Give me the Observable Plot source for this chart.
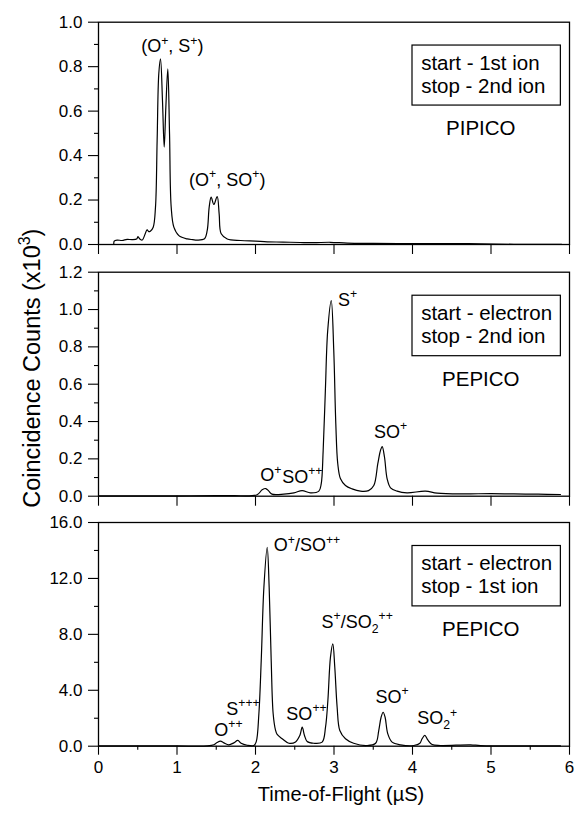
<!DOCTYPE html>
<html>
<head>
<meta charset="utf-8">
<script src="https://cdn.jsdelivr.net/npm/d3@7"></script>
<script src="https://cdn.jsdelivr.net/npm/@observablehq/plot@0.6"></script>
<style>
  html, body { margin: 0; padding: 0; background: white; }
  #chart { position: relative; width: 577px; height: 815px; overflow: hidden; }
  #chart svg { position: absolute; left: 0; top: 0; }
</style>
</head>
<body>
<div id="chart"></div>
<script>
// ---------- Panel 1: PIPICO (start - 1st ion, stop - 2nd ion) ----------
const pipicoTof = [0.195, 0.2, 0.237, 0.3, 0.364, 0.43, 0.49, 0.5, 0.53, 0.557, 0.62, 0.64, 0.66, 0.697, 0.726, 0.747, 0.768, 0.79, 0.815, 0.837, 0.858, 0.883, 0.905, 0.926, 0.96, 1.024, 1.13, 1.2, 1.257, 1.35, 1.385, 1.41, 1.435, 1.469, 1.512, 1.537, 1.563, 1.64, 1.81, 2.0, 2.15, 2.35, 2.57, 2.74, 2.95, 3.17, 3.5, 4.02, 4.5, 4.87, 5.29, 5.6, 5.9];
const pipicoCounts = [0.0, 0.015, 0.02, 0.018, 0.023, 0.022, 0.026, 0.035, 0.024, 0.02, 0.066, 0.058, 0.06, 0.078, 0.168, 0.468, 0.768, 0.835, 0.648, 0.438, 0.618, 0.79, 0.498, 0.168, 0.078, 0.04, 0.025, 0.022, 0.02, 0.026, 0.063, 0.168, 0.213, 0.18, 0.216, 0.138, 0.048, 0.025, 0.018, 0.015, 0.012, 0.011, 0.009, 0.008, 0.01, 0.006, 0.005, 0.004, 0.004, 0.003, 0.001, 0.001, 0.001];
const pipicoLabels = ["(O⁺, S⁺)", "(O⁺, SO⁺)"];
const pipicoLabelTof = [0.94, 1.64];
const pipicoLabelCounts = [0.89, 0.29];

// ---------- Panel 2: PEPICO (start - electron, stop - 2nd ion) ----------
const pepico2Tof = [0, 0.5, 1.0, 1.5, 1.72, 2.02, 2.085, 2.13, 2.17, 2.21, 2.36, 2.49, 2.594, 2.70, 2.807, 2.837, 2.862, 2.89, 2.92, 2.965, 2.997, 3.023, 3.048, 3.083, 3.146, 3.23, 3.337, 3.44, 3.507, 3.558, 3.592, 3.614, 3.643, 3.677, 3.72, 3.804, 3.93, 4.165, 4.314, 4.65, 5.0, 5.29, 5.6, 5.885];
const pepico2Counts = [0.002, 0.002, 0.002, 0.003, 0.003, 0.008, 0.034, 0.041, 0.027, 0.011, 0.011, 0.018, 0.03, 0.018, 0.027, 0.066, 0.245, 0.566, 0.888, 1.048, 0.78, 0.388, 0.174, 0.093, 0.057, 0.039, 0.027, 0.03, 0.057, 0.174, 0.245, 0.266, 0.21, 0.093, 0.045, 0.027, 0.018, 0.027, 0.016, 0.012, 0.014, 0.012, 0.011, 0.009];
const pepico2Labels = ["S⁺", "SO⁺", "O⁺", "SO⁺⁺"];
const pepico2LabelTof = [3.05, 3.72, 2.06, 2.34];
const pepico2LabelCounts = [1.05, 0.343, 0.111, 0.104];
const pepico2LabelAnchor = ["start", "middle", "start", "start"];

// ---------- Panel 3: PEPICO (start - electron, stop - 1st ion) ----------
const pepico1Tof = [0, 0.5, 1.0, 1.385, 1.47, 1.51, 1.554, 1.597, 1.66, 1.724, 1.775, 1.817, 1.894, 1.979, 2.009, 2.043, 2.073, 2.107, 2.149, 2.174, 2.2, 2.225, 2.254, 2.276, 2.34, 2.425, 2.51, 2.565, 2.595, 2.624, 2.658, 2.743, 2.849, 2.892, 2.922, 2.955, 2.985, 3.01, 3.04, 3.074, 3.146, 3.25, 3.42, 3.53, 3.57, 3.6, 3.626, 3.651, 3.685, 3.74, 3.847, 4.017, 4.094, 4.122, 4.157, 4.195, 4.25, 4.357, 4.74, 4.866, 5.3, 5.885];
const pepico1Counts = [0.02, 0.02, 0.02, 0.02, 0.1, 0.26, 0.36, 0.24, 0.1, 0.24, 0.41, 0.21, 0.07, 0.05, 0.31, 2.32, 6.13, 11.37, 14.23, 11.37, 6.13, 2.32, 1.17, 0.84, 0.53, 0.21, 0.3, 0.77, 1.36, 0.77, 0.34, 0.21, 0.29, 1.36, 3.27, 6.37, 7.32, 5.65, 2.79, 1.12, 0.53, 0.21, 0.05, 0.21, 1.12, 2.07, 2.43, 2.07, 0.89, 0.29, 0.1, 0.05, 0.21, 0.53, 0.77, 0.45, 0.12, 0.05, 0.1, 0.04, 0.03, 0.02];
const pepico1Labels = ["O⁺/SO⁺⁺", "S⁺/SO₂⁺⁺", "SO⁺", "SO₂⁺", "SO⁺⁺", "S⁺⁺⁺", "O⁺⁺"];
const pepico1LabelTof = [2.233, 3.295, 3.74, 4.315, 2.65, 1.84, 1.656];
const pepico1LabelCounts = [14.35, 8.87, 3.5, 1.98, 2.32, 2.67, 1.17];
const pepico1LabelAnchor = ["start", "middle", "middle", "middle", "middle", "middle", "middle"];

// ---------- Boxes / mode names ----------
const boxLines = [["start - 1st ion", "stop - 2nd ion"], ["start - electron", "stop - 2nd ion"], ["start - electron", "stop - 1st ion"]];
const modeNames = ["PIPICO", "PEPICO", "PEPICO"];

// ---------- Axes ----------
const xMajor = [0, 1, 2, 3, 4, 5, 6];
const xMinor = [0.5, 1.5, 2.5, 3.5, 4.5, 5.5];
const yDomains = [[0, 1.0], [0, 1.2], [0, 16]];
const yMajor = [[0, 0.2, 0.4, 0.6, 0.8, 1.0], [0, 0.2, 0.4, 0.6, 0.8, 1.0, 1.2], [0, 4, 8, 12, 16]];
const yMinor = [[0.1, 0.3, 0.5, 0.7, 0.9], [0.1, 0.3, 0.5, 0.7, 0.9, 1.1], [2, 6, 10, 14]];
const xTitle = "Time-of-Flight (µS)";
const yTitle = "Coincidence Counts (x10³)";

// ---------- Layout (pixel geometry of the three frames) ----------
const W = 577, H = 815;
const frames = [[21.7, 244], [271.7, 495.7], [522, 745.7]];
const mLeft = 98, mRight = 8;

const FONT = "'Liberation Sans', Arial, Helvetica, sans-serif";

const series = [
  {tof: pipicoTof, counts: pipicoCounts, labels: pipicoLabels, lx: pipicoLabelTof, ly: pipicoLabelCounts, anchor: pipicoLabels.map(() => "middle")},
  {tof: pepico2Tof, counts: pepico2Counts, labels: pepico2Labels, lx: pepico2LabelTof, ly: pepico2LabelCounts, anchor: pepico2LabelAnchor},
  {tof: pepico1Tof, counts: pepico1Counts, labels: pepico1Labels, lx: pepico1LabelTof, ly: pepico1LabelCounts, anchor: pepico1LabelAnchor}
];

// Render Unicode super/subscripts as real shifted tspans (plain "+", "2", "3")
const SUP = {"⁺": "+", "³": "3"}, SUB = {"₂": "2"};
function richify(textEl) {
  const s = textEl.textContent;
  if (!/[⁺³₂]/.test(s)) return;
  const fs = parseFloat(getComputedStyle(textEl).fontSize) || 16;
  const runs = [];
  for (const ch of s) {
    const kind = SUP[ch] ? "sup" : SUB[ch] ? "sub" : "normal";
    const c = SUP[ch] || SUB[ch] || ch;
    if (runs.length && runs[runs.length - 1].kind === kind) runs[runs.length - 1].text += c;
    else runs.push({kind, text: c});
  }
  textEl.textContent = "";
  let offset = 0;
  const ns = "http://www.w3.org/2000/svg";
  for (const r of runs) {
    const target = r.kind === "sup" ? -0.42 * fs : r.kind === "sub" ? 0.28 * fs : 0;
    const t = document.createElementNS(ns, "tspan");
    t.setAttribute("dy", (target - offset).toFixed(2));
    if (r.kind !== "normal") t.setAttribute("font-size", (0.68 * fs).toFixed(2));
    t.textContent = r.text;
    textEl.appendChild(t);
    offset = target;
  }
}

const chart = document.getElementById("chart");

series.forEach((s, i) => {
  const pts = s.tof.map((t, k) => ({t, c: s.counts[k]}));
  const labs = s.labels.map((text, k) => ({text, x: s.lx[k], y: s.ly[k], anchor: s.anchor[k]}));
  const [top, bottom] = frames[i];
  const last = i === 2;
  const fmt = d3.format(".1f");
  const marks = [
    Plot.axisY({ticks: yMajor[i], tickSize: 10, tickPadding: 6, tickFormat: fmt, fontSize: 17, label: null, strokeWidth: 1.1}),
    Plot.axisY({ticks: yMinor[i], tickSize: 4, tickFormat: () => "", label: null, strokeWidth: 1.1}),
    Plot.axisX({ticks: xMajor, tickSize: last ? 9 : 10, tickPadding: 6, tickFormat: last ? (d => String(d)) : (() => ""), fontSize: 17, label: null, strokeWidth: 1.1})
  ];
  if (last) marks.push(Plot.axisX({ticks: xMinor, tickSize: 4, tickFormat: () => "", label: null, strokeWidth: 1.1}));
  marks.push(
    Plot.line(pts, {x: "t", y: "c", curve: "catmull-rom", stroke: "black", strokeWidth: 1.2}),
    Plot.frame({stroke: "black", strokeWidth: 1.3}),
    Plot.text(labs.filter(d => d.anchor === "start"), {x: "x", y: "y", text: "text", textAnchor: "start", fontSize: 18, fill: "black"}),
    Plot.text(labs.filter(d => d.anchor === "middle"), {x: "x", y: "y", text: "text", textAnchor: "middle", fontSize: 18, fill: "black"}),
    Plot.rect([0], {x1: 4.0, x2: 5.89, y1: yDomains[i][1] * 0.895, y2: yDomains[i][1] * 0.625, fill: "white", stroke: "black", strokeWidth: 1.2}),
    Plot.text(boxLines[i], {x: 4.11, y: (d, k) => yDomains[i][1] * (k === 0 ? 0.815 : 0.713), text: d => d, textAnchor: "start", fontSize: 20.5, fill: "black"}),
    Plot.text([modeNames[i]], {x: 4.87, y: yDomains[i][1] * 0.523, text: d => d, textAnchor: "middle", fontSize: 20.5, fill: "black"})
  );
  if (i === 1) {
    marks.push(Plot.text([yTitle], {frameAnchor: "left", textAnchor: "middle", dx: -66, dy: -16, rotate: -90, text: d => d, fontSize: 23.5, fill: "black"}));
  }
  if (last) {
    marks.push(Plot.text([xTitle], {frameAnchor: "bottom", dx: 7, dy: 55, text: d => d, fontSize: 20, fill: "black"}));
  }
  const svg = Plot.plot({
    width: W,
    height: H,
    marginLeft: mLeft,
    marginRight: mRight,
    marginTop: top,
    marginBottom: H - bottom,
    style: `background: transparent; overflow: visible; font-family: ${FONT}; color: black;`,
    x: {domain: [0, 6]},
    y: {domain: yDomains[i]},
    marks
  });
  chart.appendChild(svg);
  svg.querySelectorAll("text").forEach(richify);
});
</script>
</body>
</html>
